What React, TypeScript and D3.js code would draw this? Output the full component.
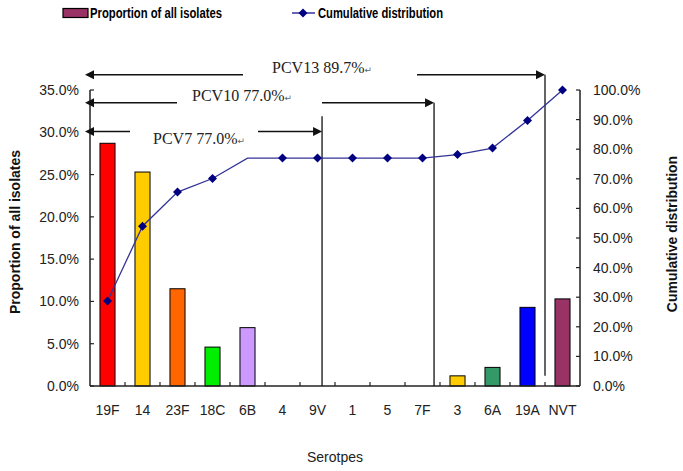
import React from "react";
import * as d3 from "d3";

const categories = ["19F", "14", "23F", "18C", "6B", "4", "9V", "1", "5", "7F", "3", "6A", "19A", "NVT"];
const proportion = [28.7, 25.3, 11.5, 4.6, 6.9, 0, 0, 0, 0, 0, 1.2, 2.2, 9.3, 10.3];
const cumulative = [28.7, 54.0, 65.5, 70.1, 77.0, 77.0, 77.0, 77.0, 77.0, 77.0, 78.2, 80.4, 89.7, 100.0];
const barColors = ["#ff0000", "#ffcc00", "#ff6600", "#00ee00", "#cc99ff", "#999", "#999", "#999", "#999", "#999", "#ffcc00", "#339966", "#0000ff", "#993366"];
const leftTicks = [0, 5, 10, 15, 20, 25, 30, 35];
const rightTicks = [0, 10, 20, 30, 40, 50, 60, 70, 80, 90, 100];
// vaccine annotations: label, last category covered, offset within band, arrow level (left-axis %), label x, vertical line top level
const vaccines = [
  { label: "PCV13 89.7%", cat: "19A", off: 1.0, level: 36.8, textX: 272, gapL: 243, gapR: 417, top: 36.8, bottom: 1.2 },
  { label: "PCV10 77.0%", cat: "7F", off: 0.83, level: 33.5, textX: 192, gapL: 177, gapR: 322, top: 33.5, bottom: 0 },
  { label: "PCV7 77.0%", cat: "9V", off: 0.63, level: 30.1, textX: 153, gapL: 130, gapR: 258, top: 31.9, bottom: 0 },
];

const W = 683, H = 471;
const m = { left: 90, right: 580, top: 90, bottom: 386 };
const font = "Liberation Sans, Arial, sans-serif";

export default function App() {
  const x = d3.scaleBand<string>().domain(categories).range([m.left, m.right]);
  const yL = d3.scaleLinear().domain([0, 35]).range([m.bottom, m.top]);
  const yR = d3.scaleLinear().domain([0, 100]).range([m.bottom, m.top]);
  const bw = x.bandwidth() * 0.43;
  const cx = (c: string) => (x(c) as number) + x.bandwidth() / 2;
  const line = d3.line<number>().x((_, i) => cx(categories[i])).y((d) => yR(d));
  const diamond = (px: number, py: number) => `M${px},${py - 4.5}L${px + 4.5},${py}L${px},${py + 4.5}L${px - 4.5},${py}Z`;
  const arrowHeadL = (tip: number, y: number) => `M${tip},${y}L${tip + 9},${y - 4.5}L${tip + 9},${y + 4.5}Z`;
  const arrowHeadR = (tip: number, y: number) => `M${tip},${y}L${tip - 9},${y - 4.5}L${tip - 9},${y + 4.5}Z`;

  return (
    <svg width={W} height={H} style={{ position: "absolute", left: 0, top: 0, background: "#fff" }}>
      <rect width={W} height={H} fill="#fff" />
      {/* legend */}
      <rect x={63} y={8.5} width={25} height={9} fill="#993366" stroke="#000" strokeWidth={1.2} />
      <text x={90} y={18} fontFamily={font} fontWeight="bold" fontSize={15} textLength={132} lengthAdjust="spacingAndGlyphs">Proportion of all isolates</text>
      <line x1={292} x2={315} y1={13} y2={13} stroke="#333399" strokeWidth={1.5} />
      <path d={diamond(303, 13)} fill="#000080" />
      <text x={318} y={18} fontFamily={font} fontWeight="bold" fontSize={15} textLength={125} lengthAdjust="spacingAndGlyphs">Cumulative distribution</text>

      {/* bars */}
      {proportion.map((v, i) =>
        v > 0 ? (
          <rect key={i} x={cx(categories[i]) - bw / 2} y={yL(v)} width={bw} height={yL(0) - yL(v)} fill={barColors[i]} stroke="#000" strokeWidth={1} />
        ) : null
      )}

      {/* axes */}
      <line x1={m.left} x2={m.left} y1={m.top} y2={m.bottom} stroke="#222" strokeWidth={1.5} />
      <line x1={m.right} x2={m.right} y1={m.top} y2={m.bottom} stroke="#222" strokeWidth={1.5} />
      <line x1={m.left} x2={m.right} y1={m.bottom} y2={m.bottom} stroke="#222" strokeWidth={1.5} />
      {leftTicks.map((t) => (
        <g key={"l" + t}>
          <line x1={m.left} x2={m.left + 4} y1={yL(t)} y2={yL(t)} stroke="#222" strokeWidth={1.2} />
          <text x={79} y={yL(t) + 5} textAnchor="end" fontFamily={font} fontSize={14} fill="#222">{t.toFixed(1)}%</text>
        </g>
      ))}
      {rightTicks.map((t) => (
        <g key={"r" + t}>
          <line x1={m.right - 4} x2={m.right} y1={yR(t)} y2={yR(t)} stroke="#222" strokeWidth={1.2} />
          <text x={593} y={yR(t) + 5} textAnchor="start" fontFamily={font} fontSize={14} fill="#222">{t.toFixed(1)}%</text>
        </g>
      ))}
      {categories.slice(1).map((c) => (
        <line key={"xt" + c} x1={x(c) as number} x2={x(c) as number} y1={m.bottom} y2={m.bottom - 4} stroke="#222" strokeWidth={1.2} />
      ))}
      {categories.map((c) => (
        <text key={"xl" + c} x={cx(c)} y={415} textAnchor="middle" fontFamily={font} fontSize={14} fill="#222">{c}</text>
      ))}
      <text x={(m.left + m.right) / 2} y={462} textAnchor="middle" fontFamily={font} fontSize={14} fill="#222">Serotpes</text>
      <text transform={`translate(20,232) rotate(-90)`} textAnchor="middle" fontFamily={font} fontWeight="bold" fontSize={14} fill="#111">Proportion of all isolates</text>
      <text transform={`translate(677,234) rotate(-90)`} textAnchor="middle" fontFamily={font} fontWeight="bold" fontSize={14} fill="#111">Cumulative distribution</text>

      {/* vaccine annotations */}
      {vaccines.map((v) => {
        const vx = (x(v.cat) as number) + x.bandwidth() * v.off;
        const ay = yL(v.level);
        return (
          <g key={v.label}>
            <line x1={vx} x2={vx} y1={yL(v.top)} y2={yL(v.bottom)} stroke="#111" strokeWidth={1.3} />
            <line x1={m.left} x2={v.gapL} y1={ay} y2={ay} stroke="#111" strokeWidth={1.5} />
            <path d={arrowHeadL(m.left - 5, ay)} fill="#111" />
            <line x1={v.gapR} x2={vx - 8} y1={ay} y2={ay} stroke="#111" strokeWidth={1.5} />
            <path d={arrowHeadR(vx, ay)} fill="#111" />
            <text x={v.textX} y={ay + (v.cat === "9V" ? 13 : -2)} fontFamily="Liberation Serif, Times New Roman, serif" fontSize={16} fill="#222">
              {v.label}
              <tspan fontSize={9} fill="#666" fontFamily="DejaVu Sans">↵</tspan>
            </text>
          </g>
        );
      })}

      {/* cumulative line */}
      <path d={line(cumulative) as string} fill="none" stroke="#333399" strokeWidth={1.3} />
      {cumulative.map((v, i) => (i === 4 ? null : <path key={"d" + i} d={diamond(cx(categories[i]), yR(v))} fill="#000080" />))}
    </svg>
  );
}
